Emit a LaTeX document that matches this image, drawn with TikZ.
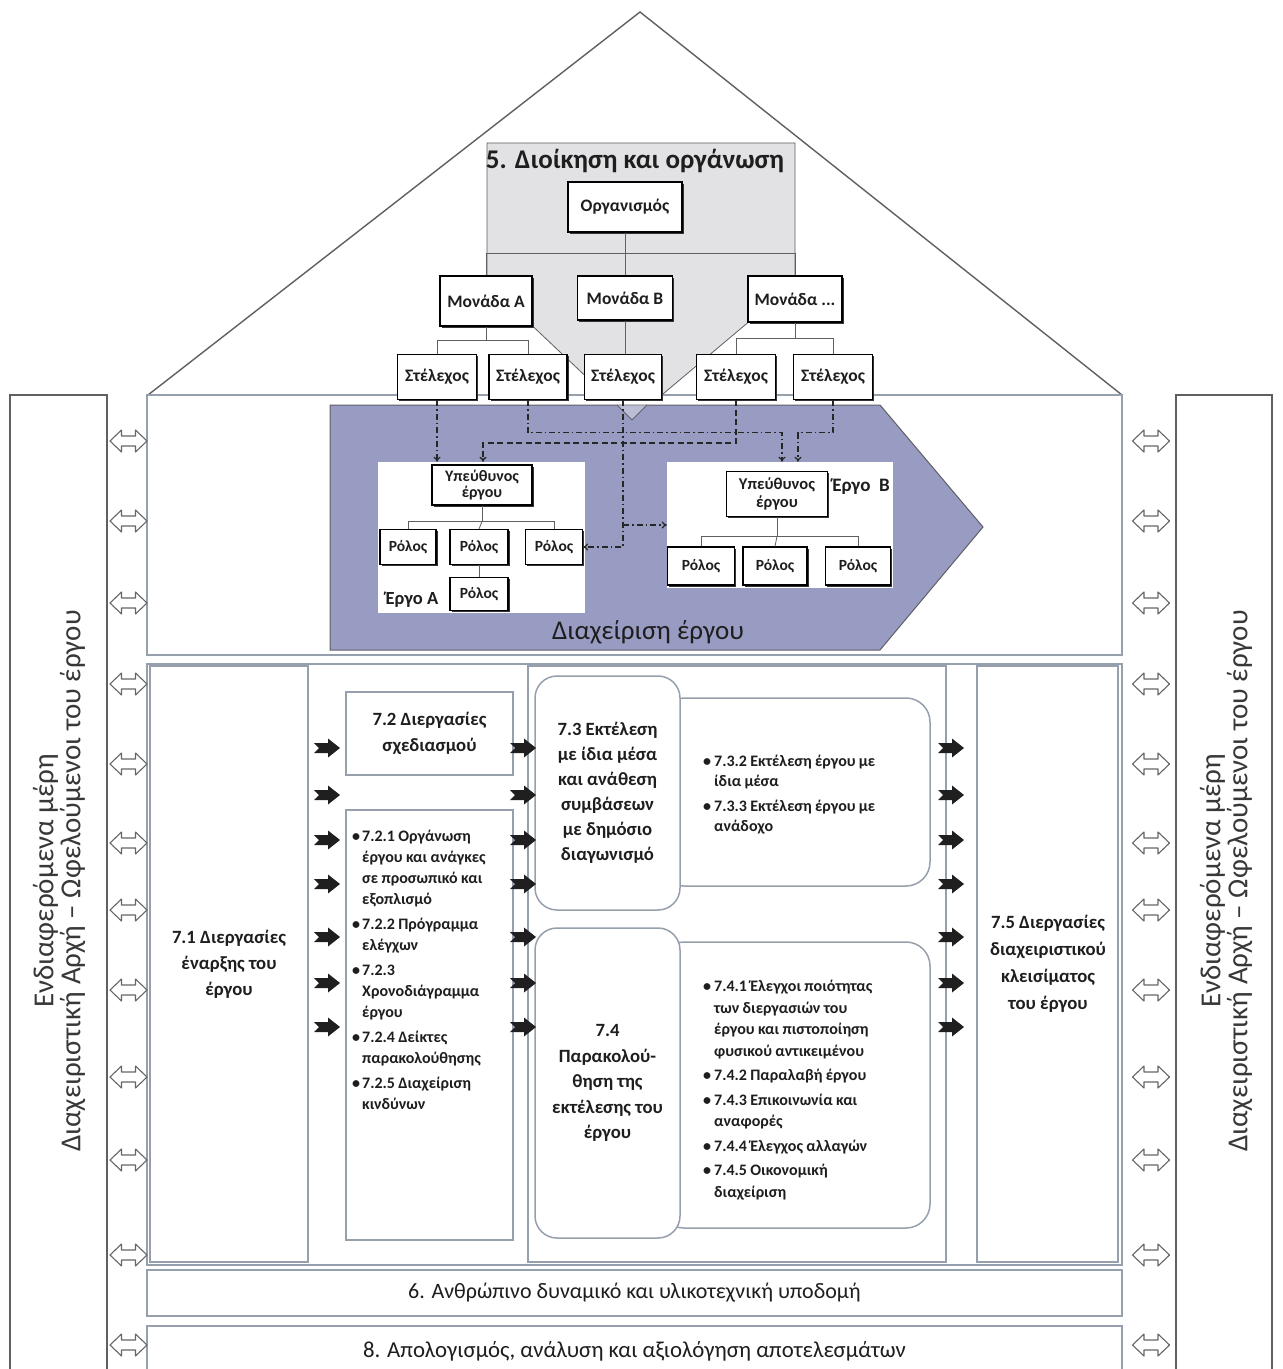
\documentclass[tikz,border=0pt]{standalone}
\usepackage{fontspec}
\setmainfont{Carlito}
\usetikzlibrary{arrows.meta,shadows,calc}

\definecolor{chev}{RGB}{152,155,194}
\definecolor{bord}{RGB}{150,160,172}
\definecolor{roofgray}{RGB}{226,226,228}
\definecolor{lineg}{RGB}{95,95,100}
\definecolor{txt}{RGB}{30,30,30}

\newcommand\fsz[2]{\fontsize{#1bp}{#2bp}\selectfont}
\newcommand\itm[2][10bp]{\par\hangindent=#1\hangafter=1\noindent\makebox[#1][l]{•}#2\par}

\tikzset{
  x=1bp, y=-1bp,
  orgbox/.style={draw=black, line width=1.1bp, fill=white, align=center, inner sep=1bp,
    text=txt, font=\bfseries\fsz{17.5}{17},
    drop shadow={shadow xshift=1.6bp, shadow yshift=-1.6bp, fill=black!80, opacity=1}},
  rolebox/.style={orgbox, font=\bfseries\fsz{15.5}{16}},
  tree/.style={draw=lineg, line width=0.8bp},
  panel/.style={fill=white, draw=none, inner sep=0},
  frame/.style={draw=bord, line width=1.5bp, fill=white, inner sep=0},
  rframe/.style={frame, rounded corners=24bp},
  side/.style={draw=lineg, line width=1.5bp, fill=white, inner sep=0},
  proc/.style={align=center, text=txt, font=\bfseries\fsz{18.7}{26}},
  list/.style={text=txt, inner sep=0, anchor=west},
  dashdot/.style={draw=black!85, line width=1.2bp, dash pattern=on 6bp off 3bp on 1.5bp off 3bp,
    -{To[length=5bp,width=7bp]}},
  dashline/.style={draw=black!85, line width=1.4bp, dash pattern=on 6bp off 3.5bp,
    -{To[length=5bp,width=7bp]}},
  stake/.style={rotate=90, align=center, text=black!78, font=\fsz{29}{27}},
  blk/.pic={\fill[black!88] (-13,-5) -- (1,-5) -- (1,-9.5) -- (13,0) -- (1,9.5) -- (1,5)
      -- (-13,5) -- (-8,0) -- cycle;},
  dblarrow/.pic={\draw[draw=black!60, line width=1.1bp, fill=white, line join=round]
      (-18.5,0) -- (-7,-11) -- (-7,-5) -- (7,-5) -- (7,-11) -- (18.5,0) -- (7,11) -- (7,5)
      -- (-7,5) -- (-7,11) -- cycle;}
}

\begin{document}
\begin{tikzpicture}
\useasboundingbox[fill=white] (0,0) rectangle (1282,1369);

% ---------- roof with management structure ----------
\draw[draw=lineg, line width=1.4bp] (148,395) -- (640,12) -- (1122,395);
\draw[fill=roofgray, draw=lineg, line width=0.8bp]
  (487,143) -- (795,143) -- (795,283) -- (632,420) -- (487,283) -- cycle;
\node[font=\bfseries\fsz{27}{30}, text=txt] (t5) at (635,161) {5. Διοίκηση και οργάνωση};

\node[orgbox, minimum width=114bp, minimum height=50bp] (org)  at (625,207) {Οργανισμός};
\node[orgbox, minimum width=92bp,  minimum height=50bp] (monA) at (486,301) {Μονάδα A};
\node[orgbox, minimum width=95bp,  minimum height=44bp] (monB) at (625,298) {Μονάδα B};
\node[orgbox, minimum width=94bp,  minimum height=46bp] (monC) at (795,299) {Μονάδα ...};

\draw[tree] (org.south) -- ++(0,21) coordinate (bar);
\draw[tree] (monA.north) |- (bar) -| (monC.north);
\draw[tree] (bar) -- (monB.north);

% ---------- stakeholder columns ----------
\node[side, minimum width=97bp, minimum height=985bp] (lside) at (58.5,887.5) {};
\node[side, minimum width=96bp, minimum height=985bp] (rside) at (1224,887.5) {};
\node[stake] (ltext) at (59,881) {Ενδιαφερόμενα μέρη\\Διαχειριστική Αρχή – Ωφελούμενοι του έργου};
\node[stake] (rtext) at (1226,881) {Ενδιαφερόμενα μέρη\\Διαχειριστική Αρχή – Ωφελούμενοι του έργου};

% ---------- project management band ----------
\node[frame, minimum width=975bp, minimum height=260bp] (band) at (634.5,525) {};
\draw[fill=chev, draw=lineg, line width=1bp]
  (330,405) -- (880,405) -- (983,527) -- (880,650) -- (330,650) -- cycle;
\draw[draw=lineg, line width=0.8bp, fill=white, fill opacity=0.35]
  (617,405) -- (632,420) -- (647,405);
\node[font=\fsz{27}{30}, text=txt] (pm) at (648,632) {Διαχείριση έργου};

% staff boxes
\node[orgbox, minimum width=79bp, minimum height=45bp] (st1) at (437,377) {Στέλεχος};
\node[orgbox, minimum width=78bp, minimum height=45bp] (st2) at (528,377) {Στέλεχος};
\node[orgbox, minimum width=77bp, minimum height=45bp] (st3) at (623,377) {Στέλεχος};
\node[orgbox, minimum width=79bp, minimum height=45bp] (st4) at (736,377) {Στέλεχος};
\node[orgbox, minimum width=79bp, minimum height=45bp] (st5) at (833,377) {Στέλεχος};

\draw[tree] (monA.south) -- ++(0,14) coordinate (ja);
\draw[tree] (st1.north) |- (ja) -| (st2.north);
\draw[tree] (monB.south) -- (monB.south |- st3.north);
\draw[tree] (monC.south) -- ++(0,16) coordinate (jc);
\draw[tree] (st4.north) |- (jc) -| (st5.north);

% project A
\node[panel, minimum width=207bp, minimum height=151bp] (panA) at (481.5,537.5) {};
\node[rolebox, minimum width=100bp, minimum height=40bp, font=\bfseries\fsz{16}{16}] (ypA) at (482,485) {Υπεύθυνος\\έργου};
\node[rolebox, minimum width=56bp, minimum height=35bp] (rA1) at (408,547) {Ρόλος};
\node[rolebox, minimum width=58bp, minimum height=35bp] (rA2) at (479,547) {Ρόλος};
\node[rolebox, minimum width=57bp, minimum height=35bp] (rA3) at (554,547) {Ρόλος};
\node[rolebox, minimum width=58bp, minimum height=33bp] (rA4) at (479,594) {Ρόλος};
\node[font=\bfseries\fsz{18.5}{20}, text=txt] (eA) at (412,600) {Έργο A};
\draw[tree] (ypA.south) -- ++(0,16) coordinate (jA);
\draw[tree] (rA1.north) |- (jA) -| (rA3.north);
\draw[tree] (jA) -- (rA2.north);
\draw[tree] (rA2.south) -- (rA4.north);

% project B
\node[panel, minimum width=226bp, minimum height=126bp] (panB) at (780,525) {};
\node[rolebox, minimum width=101bp, minimum height=45bp, font=\bfseries\fsz{16.5}{18}] (ypB) at (777,494) {Υπεύθυνος\\έργου};
\node[rolebox, minimum width=67bp, minimum height=38bp] (rB1) at (701,566) {Ρόλος};
\node[rolebox, minimum width=64bp, minimum height=38bp] (rB2) at (775,566) {Ρόλος};
\node[rolebox, minimum width=65bp, minimum height=38bp] (rB3) at (858,566) {Ρόλος};
\node[font=\bfseries\fsz{19}{20}, text=txt] (eB) at (861,487) {Έργο\ \ B};
\draw[tree] (ypB.south) -- ++(0,19) coordinate (jB);
\draw[tree] (rB1.north) |- (jB) -| (rB3.north);
\draw[tree] (jB) -- (rB2.north);

% assignment of staff to projects
\draw[dashdot]  (st1.south) -- (st1.south |- panA.north);
\draw[dashline] (st4.south) |- ($(panA.north)+(1.5,-19)$) -- ($(panA.north)+(1.5,0)$);
\draw[dashdot]  (st2.south) |- ($(panB.north)+(2,-29)$) -- ($(panB.north)+(2,0)$);
\draw[dashdot]  (st5.south) |- ($(panB.north)+(18,-29)$) -- ($(panB.north)+(18,0)$);
\draw[dashdot]  (st3.south) |- (rA3.east);
\draw[dashdot]  (st3.south |- panB.west) -- (panB.west);

% ---------- process band ----------
\node[frame, minimum width=975bp, minimum height=601bp] (pband) at (634.5,964.5) {};
\node[frame, minimum width=158bp, minimum height=596bp] (b71) at (229,964) {};
\node[proc] at (b71) {7.1 Διεργασίες\\έναρξης του\\έργου};

\node[frame, minimum width=167bp, minimum height=83bp] (b72) at (429.5,733.5)
  [proc] {7.2 Διεργασίες\\σχεδιασμού};
\node[frame, minimum width=167bp, minimum height=430bp] (b72l) at (429.5,1025) {};
\node[list, text width=162bp, anchor=north west] (l72) at (352,820) {%
  \bfseries\fsz{16}{21}\raggedright
  \itm{7.2.1 Οργάνωση\newline έργου και ανάγκες\newline σε προσωπικό και\newline εξοπλισμό}\vspace{4bp}
  \itm{7.2.2 Πρόγραμμα\newline ελέγχων}\vspace{4bp}
  \itm{7.2.3\newline Χρονοδιάγραμμα\newline έργου}\vspace{4bp}
  \itm{7.2.4 Δείκτες\newline παρακολούθησης}\vspace{4bp}
  \itm{7.2.5 Διαχείριση\newline κινδύνων}};

\node[frame, minimum width=418bp, minimum height=596bp] (cont) at (737,964) {};
\node[rframe, minimum width=270bp, minimum height=188bp] (b73l) at (795,792) {};
\node[rframe, rounded corners=22bp, minimum width=145bp, minimum height=234bp] (b73) at (607.5,793)
  [proc, font=\bfseries\fsz{18.7}{25}] {7.3 Εκτέλεση\\με ίδια μέσα\\και ανάθεση\\συμβάσεων\\με δημόσιο\\διαγωνισμό};
\node[list, text width=222bp] (l73) at (703,790) {%
  \bfseries\fsz{16}{20.5}\raggedright
  \itm[11bp]{7.3.2 Εκτέλεση έργου με\newline ίδια μέσα}\vspace{4bp}
  \itm[11bp]{7.3.3 Εκτέλεση έργου με\newline ανάδοχο}};

\node[rframe, minimum width=270bp, minimum height=286bp] (b74l) at (795,1085) {};
\node[rframe, rounded corners=22bp, minimum width=145bp, minimum height=310bp] (b74) at (607.5,1083)
  [proc, font=\bfseries\fsz{18.7}{25.5}] {7.4\\Παρακολού-\\θηση της\\εκτέλεσης του\\έργου};
\node[list, text width=222bp] (l74) at (703,1085) {%
  \bfseries\fsz{16}{21.5}\raggedright
  \itm[11bp]{7.4.1 Έλεγχοι ποιότητας\newline των διεργασιών του\newline έργου και πιστοποίηση\newline φυσικού αντικειμένου}\vspace{3bp}
  \itm[11bp]{7.4.2 Παραλαβή έργου}\vspace{3bp}
  \itm[11bp]{7.4.3 Επικοινωνία και\newline αναφορές}\vspace{3bp}
  \itm[11bp]{7.4.4 Έλεγχος αλλαγών}\vspace{3bp}
  \itm[11bp]{7.4.5 Οικονομική\newline διαχείριση}};

\node[frame, minimum width=141bp, minimum height=596bp] (b75) at (1047.5,964) {};
\node[proc, font=\bfseries\fsz{18.7}{27}] at (1048,964) {7.5 Διεργασίες\\διαχειριστικού\\κλεισίματος\\του έργου};

% flow arrows between the process stages
\foreach \yy [count=\i] in {748,795,840,884,937,983,1027} {
  \pic (fa\i) at (327,\yy) {blk};
  \pic (fb\i) at (523,\yy) {blk};
  \pic (fc\i) at (951,\yy) {blk};
}

% ---------- support bands ----------
\node[frame, minimum width=975bp, minimum height=46bp] (b6) at (634.5,1293)
  [font=\fsz{22}{24}, text=txt] {6. Ανθρώπινο δυναμικό και υλικοτεχνική υποδομή};
\node[frame, minimum width=975bp, minimum height=50bp] (b8) at (634.5,1351)
  [font=\fsz{22.8}{24}, text=txt] {8. Απολογισμός, ανάλυση και αξιολόγηση αποτελεσμάτων};

% ---------- exchange with stakeholders ----------
\foreach \yy [count=\i] in {441,521,603,684,764,843,910,990,1077,1160,1255,1345} {
  \pic (dl\i) at (128.5,\yy) {dblarrow};
  \pic (dr\i) at (1151,\yy) {dblarrow};
}
\end{tikzpicture}
\end{document}
